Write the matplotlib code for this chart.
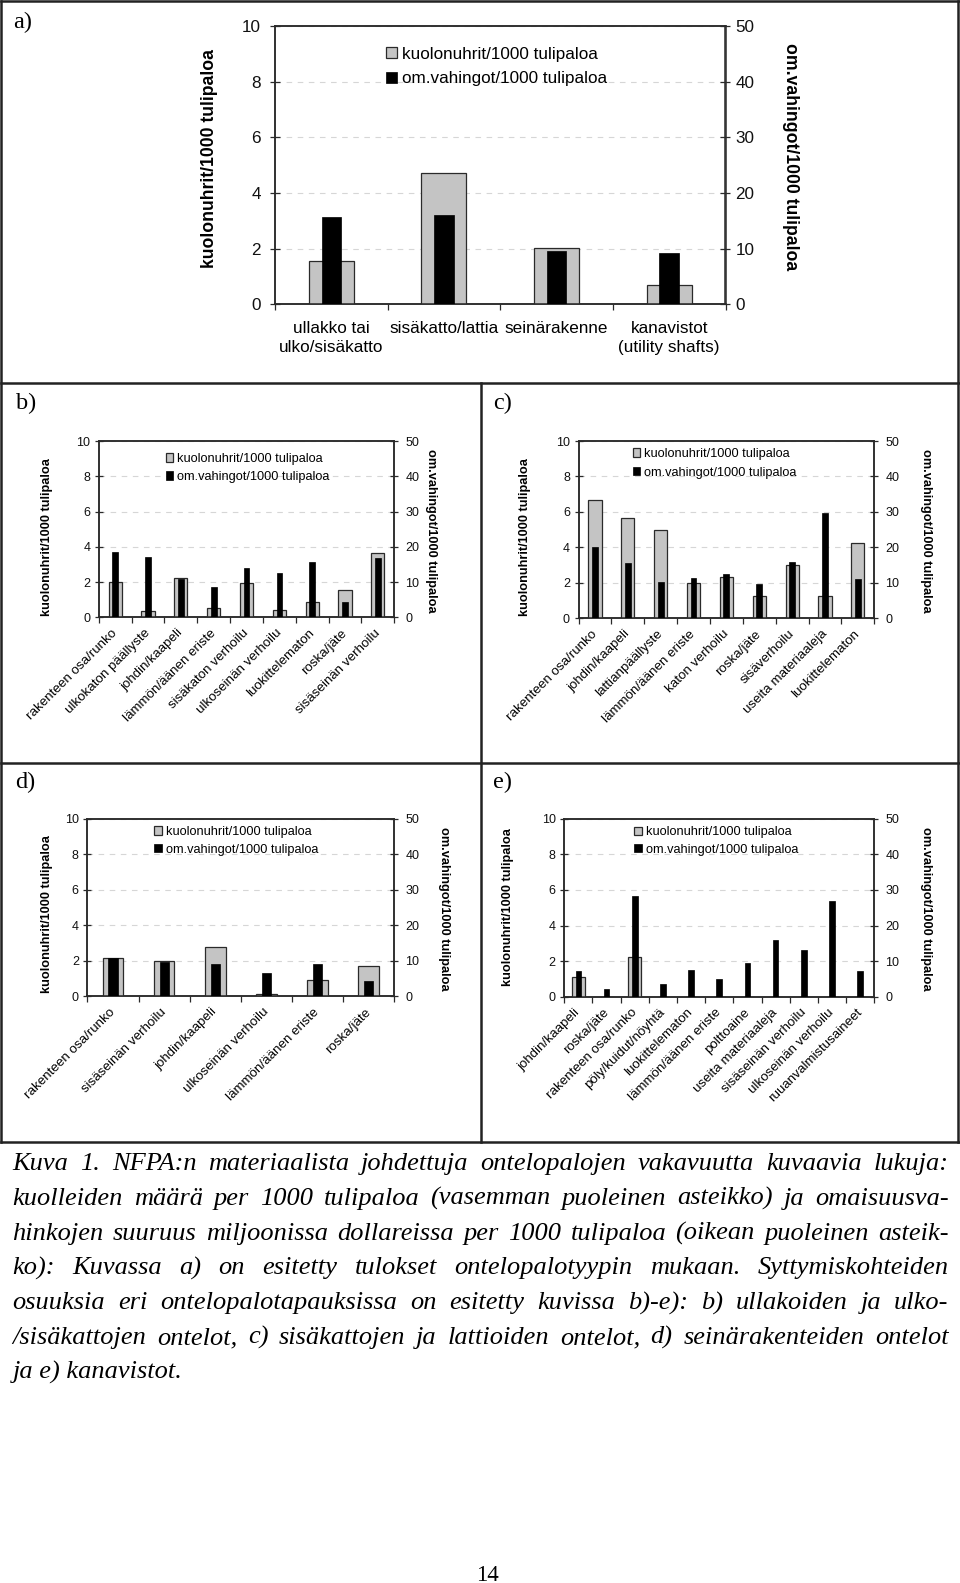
import numpy as np
import matplotlib
matplotlib.use('Agg')
import matplotlib.pyplot as plt
from matplotlib.lines import Line2D

W, H, DPI = 960, 1583, 100

SERIES = ['kuolonuhrit/1000 tulipaloa', 'om.vahingot/1000 tulipaloa']
LEFT_TICKS = [0, 2, 4, 6, 8, 10]
RIGHT_TICKS = [0, 10, 20, 30, 40, 50]

a_cats = ['ullakko tai\nulko/sisäkatto', 'sisäkatto/lattia', 'seinärakenne',
          'kanavistot\n(utility shafts)']
a_deaths = [1.57, 4.72, 2.04, 0.68]
a_damage = [15.6, 16.0, 9.6, 9.2]

b_cats = ['rakenteen osa/runko', 'ulkokaton päällyste', 'johdin/kaapeli',
          'lämmön/äänen eriste', 'sisäkaton verhoilu', 'ulkoseinän verhoilu',
          'luokittelematon', 'roska/jäte', 'sisäseinän verhoilu']
b_deaths = [1.98, 0.38, 2.25, 0.51, 1.93, 0.42, 0.85, 1.53, 3.65]
b_damage = [18.6, 17.2, 10.8, 8.7, 14.1, 12.5, 15.8, 4.3, 16.9]

c_cats = ['rakenteen osa/runko', 'johdin/kaapeli', 'lattianpäällyste',
          'lämmön/äänen eriste', 'katon verhoilu', 'roska/jäte', 'sisäverhoilu',
          'useita materiaaleja', 'luokittelematon']
c_deaths = [6.65, 5.66, 4.98, 1.97, 2.35, 1.24, 2.99, 1.28, 4.25]
c_damage = [20.2, 15.5, 10.2, 11.3, 12.4, 9.6, 16.0, 29.8, 11.0]

d_cats = ['rakenteen osa/runko', 'sisäseinän verhoilu', 'johdin/kaapeli',
          'ulkoseinän verhoilu', 'lämmön/äänen eriste', 'roska/jäte']
d_deaths = [2.18, 2.01, 2.80, 0.13, 0.90, 1.71]
d_damage = [10.9, 9.6, 9.0, 6.6, 9.0, 4.3]

e_cats = ['johdin/kaapeli', 'roska/jäte', 'rakenteen osa/runko', 'pöly/kuidut/nöyhtä',
          'luokittelematon', 'lämmön/äänen eriste', 'polttoaine', 'useita materiaaleja',
          'sisäseinän verhoilu', 'ulkoseinän verhoilu', 'ruuanvalmistusaineet']
e_deaths = [1.12, 0, 2.23, 0, 0, 0, 0, 0, 0, 0, 0]
e_damage = [7.3, 2.3, 28.3, 3.7, 7.6, 5.1, 9.4, 15.9, 13.1, 26.9, 7.3]

caption_lines = [
    "Kuva 1. NFPA:n materiaalista johdettuja ontelopalojen vakavuutta kuvaavia lukuja:",
    "kuolleiden määrä per 1000 tulipaloa (vasemman puoleinen asteikko) ja omaisuusva-",
    "hinkojen suuruus miljoonissa dollareissa per 1000 tulipaloa (oikean puoleinen asteik-",
    "ko): Kuvassa a) on esitetty tulokset ontelopalotyypin mukaan. Syttymiskohteiden",
    "osuuksia eri ontelopalotapauksissa on esitetty kuvissa b)-e): b) ullakoiden ja ulko-",
    "/sisäkattojen ontelot, c) sisäkattojen ja lattioiden ontelot, d) seinärakenteiden ontelot",
    "ja e) kanavistot.",
]

SANS = 'Liberation Sans'
SERIF = 'Liberation Serif'
GRAY = '#c4c4c4'
EDGE = '#2a2a2a'

plt.rcParams['font.family'] = [SANS, 'DejaVu Sans']

fig = plt.figure(figsize=(W / DPI, H / DPI), dpi=DPI)


def fx(x):
    return x / W


def fy(y):
    return 1 - y / H


def axes_px(l, t, r, b):
    return fig.add_axes([l / W, 1 - b / H, (r - l) / W, (b - t) / H])


def draw_panel(rect, cats, deaths, damage, widths, big, leg, ylab_l, ylab_r, rotate):
    ax = axes_px(*rect)
    ax2 = ax.twinx()
    n = len(cats)
    x = np.arange(n)
    if big:
        fs_tick, fs_leg, fs_cat, fs_lab = 12.3, 12.3, 12.3, 12.7
        tl, lpad, rpad = 7.2, 6.5, 3.6
    else:
        fs_tick, fs_leg, fs_cat, fs_lab = 9.0, 9.2, 9.6, 9.2
        tl, lpad, rpad = 5.5, 3.4, 5.1
    gb = ax.bar(x, deaths, width=widths[0], color=GRAY, edgecolor=EDGE,
                linewidth=0.9, zorder=3)
    bb = ax2.bar(x, damage, width=widths[1], color='black', edgecolor='black',
                 linewidth=0.5, zorder=3)
    ax.set_xlim(-0.5, n - 0.5)
    ax.set_ylim(0, 10)
    ax2.set_ylim(0, 50)
    ax.set_yticks(LEFT_TICKS)
    ax2.set_yticks(RIGHT_TICKS)
    ax.yaxis.grid(True, color='#d6d6d6', linestyle=(0, (5, 5)), linewidth=0.8)
    ax.set_axisbelow(True)
    for a_ in (ax, ax2):
        for s in a_.spines.values():
            s.set_color(EDGE)
            s.set_linewidth(1.1)
    ax.tick_params(axis='y', direction='inout', length=tl, width=0.9, color=EDGE,
                   labelsize=fs_tick, pad=lpad, labelcolor='#111')
    ax2.tick_params(axis='y', direction='inout', length=tl, width=0.9, color=EDGE,
                    labelsize=fs_tick, pad=rpad, labelcolor='#111')
    ax.set_xticks(np.arange(n + 1) - 0.5)
    ax.set_xticklabels([])
    ax.tick_params(axis='x', which='major', direction='out', length=4.3, width=0.9,
                   color=EDGE)
    ax.set_xticks(x, minor=True)
    if rotate:
        ax.set_xticklabels(cats, minor=True, fontsize=fs_cat)
        ax.tick_params(axis='x', which='minor', length=0, pad=10)
        for lbl in ax.get_xticklabels(minor=True):
            lbl.set_rotation(45)
            lbl.set_ha('right')
            lbl.set_va('center')
            lbl.set_rotation_mode('anchor')
    else:
        ax.set_xticklabels(cats, minor=True, fontsize=fs_cat, linespacing=1.3)
        ax.tick_params(axis='x', which='minor', length=0, pad=12)
    # legend
    lx, ly1, ly2, sq = leg
    fpx = fs_leg * DPI / 72
    ax2.legend([gb, bb], SERIES, loc='center left',
               bbox_to_anchor=(fx(lx), fy((ly1 + ly2) / 2)),
               bbox_transform=fig.transFigure, frameon=False, borderpad=0,
               borderaxespad=0, handlelength=sq / fpx, handleheight=sq / fpx,
               handletextpad=0.3, labelspacing=(ly2 - ly1 - 1.15 * fpx) / fpx,
               fontsize=fs_leg)
    fig.text(fx(ylab_l[0]), fy(ylab_l[1]), SERIES[0], rotation=90, ha='center',
             va='center', fontsize=fs_lab, fontweight='bold')
    fig.text(fx(ylab_r[0]), fy(ylab_r[1]), SERIES[1], rotation=270, ha='center',
             va='center', fontsize=fs_lab, fontweight='bold')
    return ax, ax2


draw_panel((275, 26, 725.5, 304.3), a_cats, a_deaths, a_damage, (0.40, 0.174), True,
           (386, 52, 81, 11), (210, 159), (791, 156.5), False)
draw_panel((98.8, 441, 394.3, 617.3), b_cats, b_deaths, b_damage, (0.40, 0.175), False,
           (165.7, 457.7, 478.3, 7.7), (47.5, 537.5), (431, 531), True)
draw_panel((578.5, 441, 874.3, 618.3), c_cats, c_deaths, c_damage, (0.40, 0.18), False,
           (632.7, 452.7, 474, 7.7), (525, 537), (926, 531), True)
draw_panel((87.4, 818.7, 394.3, 996.2), d_cats, d_deaths, d_damage, (0.40, 0.18), False,
           (154.3, 830.7, 851, 7.7), (47.5, 914.5), (444, 908.5), True)
draw_panel((564.3, 818.7, 874.3, 996.7), e_cats, e_deaths, e_damage, (0.45, 0.20), False,
           (634.3, 831, 851, 7.7), (508.5, 907.5), (926, 908.5), True)

# frames
def hline(x0, x1, y, lw=1.8):
    fig.add_artist(Line2D([fx(x0), fx(x1)], [fy(y), fy(y)], transform=fig.transFigure,
                          color='#222', lw=lw))


def vline(x, y0, y1, lw=1.8):
    fig.add_artist(Line2D([fx(x), fx(x)], [fy(y0), fy(y1)], transform=fig.transFigure,
                          color='#222', lw=lw))


hline(0.5, 958.5, 1)
hline(0.5, 958.5, 382.5)
hline(0.5, 958.5, 762.5)
hline(0.5, 958.5, 1141.5)
vline(1, 0.5, 1142)
vline(958, 0.5, 1142)
vline(480.5, 382.5, 1142)

# panel letters
for lbl, (px, py) in {'a)': (13.5, 22.5), 'b)': (16, 403), 'c)': (493, 403),
                      'd)': (15, 782), 'e)': (493, 782)}.items():
    fig.text(fx(px), fy(py), lbl, ha='left', va='center', family=SERIF, fontsize=17.5)

# caption (justified)
renderer = fig.canvas.get_renderer()
CAP_L, CAP_R = 12.5, 948.5
BASE0, DY = 1170, 34.8


def measure(words, fs):
    out = []
    for w in words:
        t = fig.text(0, 0, w, fontsize=fs, family=SERIF, style='italic')
        out.append(t.get_window_extent(renderer).width)
        t.remove()
    return out


fs_cap = 19.0
target = CAP_R - CAP_L
need = 0
for line in caption_lines[:-1]:
    words = line.split(' ')
    ws = measure(words, fs_cap)
    natural = sum(ws) + (len(words) - 1) * 0.2 * fs_cap * DPI / 72
    need = max(need, natural)
if need > target:
    fs_cap = fs_cap * target / need * 0.998

for i, line in enumerate(caption_lines):
    yb = BASE0 + i * DY
    words = line.split(' ')
    if i == len(caption_lines) - 1:
        fig.text(fx(CAP_L), fy(yb), line, ha='left', va='baseline', family=SERIF,
                 style='italic', fontsize=fs_cap)
        continue
    ws = measure(words, fs_cap)
    gap = (target - sum(ws)) / (len(words) - 1)
    xcur = CAP_L
    for w, wd in zip(words, ws):
        fig.text(fx(xcur), fy(yb), w, ha='left', va='baseline', family=SERIF,
                 style='italic', fontsize=fs_cap)
        xcur += wd + gap

fig.text(fx(487.5), fy(1581), '14', ha='center', va='baseline', family=SERIF,
         fontsize=16.5)

fig.savefig('out.png', dpi=DPI)
